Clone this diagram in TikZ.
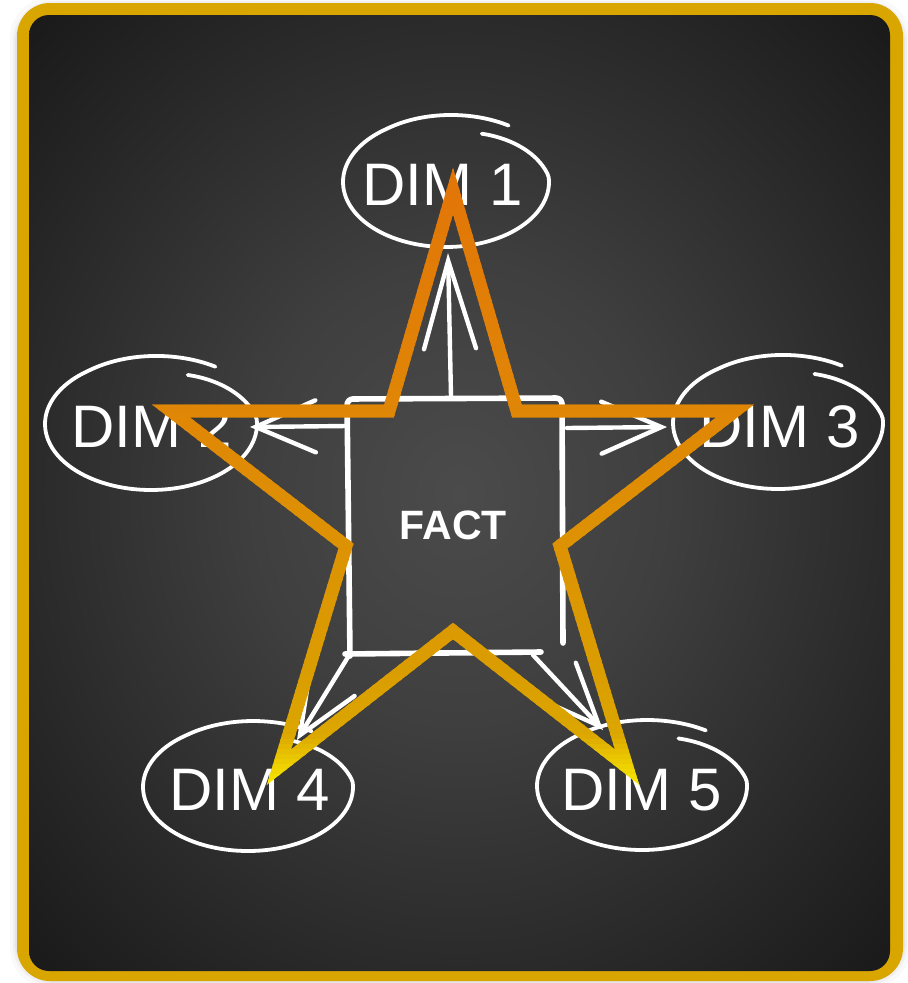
\documentclass[tikz,border=0pt]{standalone}
\usepackage{fontspec}
\setmainfont{Liberation Sans}
\usetikzlibrary{arrows.meta,calc}
\definecolor{gold}{HTML}{D9A600}
\definecolor{bA}{HTML}{4B4B4B}
\definecolor{bB}{HTML}{3F3F3F}
\definecolor{bC}{HTML}{2A2A2A}
\definecolor{bD}{HTML}{1A1A1A}
\definecolor{sA}{RGB}{226,116,8}
\definecolor{sB}{RGB}{224,134,6}
\definecolor{sC}{RGB}{218,158,0}
\definecolor{sD}{RGB}{220,166,0}
\definecolor{sE}{RGB}{248,232,0}
\pgfdeclareradialshading{board}{\pgfpoint{0bp}{0bp}}{color(0bp)=(bA); color(12bp)=(bB); color(25bp)=(bC); color(35bp)=(bD); color(50bp)=(bD)}
\newcommand{\chalkellipse}[5]{%
  \draw[chalk, line width=3.8pt, shift={(#1)}] plot[smooth, domain=0:370, samples=110, variable=\t]
   ({#2+#4*(min(1,0.82+0.18*\t/60)+max(0,(\t-300)/70*0.06))*cos(65-\t)},
    {#3-#5*(min(1,0.82+0.18*\t/60)+max(0,(\t-300)/70*0.06))*sin(65-\t)});
}
\begin{document}
\begin{tikzpicture}[x=1pt,y=-1pt,
  chalk/.style={draw=white, line width=4.4pt, line cap=round, line join=round},
  boxline/.style={chalk, line width=5.6pt, rounded corners=6pt},
  dimlabel/.style={text=white, inner sep=0pt, font=\fontsize{60}{60}\selectfont},
  factlabel/.style={text=white, inner sep=0pt, font=\bfseries\fontsize{41}{41}\selectfont},
  starline/.style={line width=13pt, line join=miter, miter limit=10},
  arr/.style 2 args={chalk, -{Straight Barb[length=#1pt, width=#2pt, line cap=round]}}
]
\useasboundingbox (0,0) rectangle (908,983);
\fill[white] (0,0) rectangle (908,983);
% soft shadow
\foreach \k/\o in {7/0.025,4/0.035,2/0.045}{
  \fill[black, opacity=\o, rounded corners=40pt] (17-\k,3-\k+2) rectangle (903+\k,981+\k);
}
% frame and board
\fill[gold, rounded corners=33pt] (17,3) rectangle (903,981);
\shade[shading=board, rounded corners=20pt] (29,15) rectangle (890,971);

% labels
\node[dimlabel] (d1) at (442.5,185) {DIM 1};
\node[dimlabel] (d2) at (151.5,427) {DIM 2};
\node[dimlabel] (d3) at (779.5,427) {DIM 3};
\node[dimlabel] (d4) at (249.5,790) {DIM 4};
\node[dimlabel] (d5) at (641.5,790) {DIM 5};
\node[factlabel] (fact) at (453.5,525) {FACT};

% chalk ellipses
\chalkellipse{d1.center}{3.5}{-3}{103}{65}
\chalkellipse{d2.center}{-0.5}{-3}{106}{66}
\chalkellipse{d3.center}{-1.5}{-4}{105}{66}
\chalkellipse{d4.center}{-1.5}{-3}{105}{64}
\chalkellipse{d5.center}{0.5}{-4}{105}{64}

% chalk box around FACT
\draw[boxline] (350,656) -- (347,399) -- (562,398) -- (563,643);
\draw[boxline] (345,654) -- (541,652);

% connector start points on the box
\coordinate (s1) at (451,396);
\coordinate (s2) at (347,426);
\coordinate (s3) at (567,428);
\coordinate (s4) at (348,657);
\coordinate (s5) at (533,655);

\draw[arr={88}{52}] (s1) -- ([shift={(5.5,68)}]d1.center);
\draw[arr={60}{52}] (s2) -- ([shift={(98.5,0)}]d2.center);
\draw[arr={60}{52}] (s3) -- ([shift={(-112.5,0)}]d3.center);
\draw[arr={62}{52}] (s4) -- ([shift={(47.5,-50)}]d4.center);
\draw[arr={62}{52}] (s5) -- ([shift={(-38.5,-60)}]d5.center);

% star
\coordinate (T) at (453,191);
\coordinate (IUR) at (517,411);
\coordinate (R) at (735,411);
\coordinate (IR) at (560,546);
\coordinate (BR) at (627,767);
\coordinate (IB) at (453,631);
\coordinate (BL) at (279,767);
\coordinate (IL) at (346,546);
\coordinate (L) at (171,411);
\coordinate (IUL) at (389,411);
\foreach \yy in {160,165,...,795}{
  \pgfmathsetmacro{\yc}{\yy+2.5}
  \ifdim\yc pt<411pt
    \pgfmathsetmacro{\pp}{(\yc-160)/251*100}\colorlet{bandc}{sB!\pp!sA}
  \else\ifdim\yc pt<680pt
    \pgfmathsetmacro{\pp}{(\yc-411)/269*100}\colorlet{bandc}{sC!\pp!sB}
  \else\ifdim\yc pt<735pt
    \pgfmathsetmacro{\pp}{(\yc-680)/55*100}\colorlet{bandc}{sD!\pp!sC}
  \else
    \pgfmathsetmacro{\pp}{min(100,(\yc-735)/50*100)}\colorlet{bandc}{sE!\pp!sD}
  \fi\fi\fi
  \begin{scope}
    \clip (0,\yy-0.4) rectangle (908,\yy+5.4);
    \draw[starline, draw=bandc] (T) -- (IUR) -- (R) -- (IR) -- (BR) -- (IB) -- (BL) -- (IL) -- (L) -- (IUL) -- cycle;
  \end{scope}
}
\end{tikzpicture}
\end{document}
